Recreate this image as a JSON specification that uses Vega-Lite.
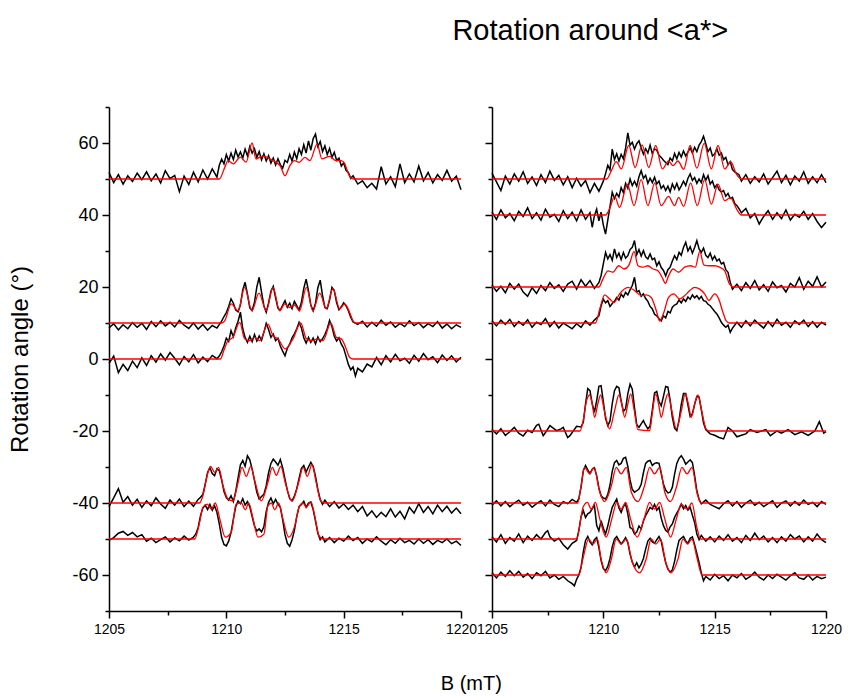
{
"$schema":"https://vega.github.io/schema/vega-lite/v6.json",
"background":"white",
"padding":{"left":8,"top":17,"right":10,"bottom":10},
"config":{"view":{"stroke":null},"font":"Liberation Sans","axis":{"domainColor":"black","domainWidth":1.5,"tickColor":"black","tickWidth":1.5,"labelColor":"black","labelFontSize":18,"labelFont":"Liberation Sans","titleFont":"Liberation Sans","titleFontWeight":"normal","titleColor":"black","titleFontSize":24,"grid":false,"labelPadding":4,"labelOverlap":false,"labelFlush":false},"title":{"font":"Liberation Sans","fontWeight":"normal","color":"black"}},
"title":{"text":"B (mT)","orient":"bottom","anchor":"middle","font":"Liberation Sans","fontSize":20,"offset":38,"dx":46},
"spacing":31,
"bounds":"flush",
"datasets":{
"le":[
{"s":50,"x":1205.0,"y":51.8},{"s":50,"x":1205.2,"y":49.0},{"s":50,"x":1205.4,"y":51.2},{"s":50,"x":1205.6,"y":48.6},{"s":50,"x":1205.8,"y":50.9},{"s":50,"x":1206.0,"y":49.3},{"s":50,"x":1206.2,"y":51.6},{"s":50,"x":1206.4,"y":49.8},{"s":50,"x":1206.6,"y":52.0},{"s":50,"x":1206.8,"y":49.5},{"s":50,"x":1207.0,"y":51.4},{"s":50,"x":1207.2,"y":48.9},{"s":50,"x":1207.4,"y":52.3},{"s":50,"x":1207.6,"y":50.1},{"s":50,"x":1207.8,"y":51.0},{"s":50,"x":1208.0,"y":46.5},{"s":50,"x":1208.2,"y":50.8},{"s":50,"x":1208.4,"y":48.5},{"s":50,"x":1208.6,"y":51.9},{"s":50,"x":1208.8,"y":49.2},{"s":50,"x":1209.0,"y":52.5},{"s":50,"x":1209.2,"y":50.0},{"s":50,"x":1209.4,"y":52.8},{"s":50,"x":1209.6,"y":50.5},{"s":50,"x":1209.7,"y":53.8},{"s":50,"x":1209.8,"y":55.5},{"s":50,"x":1209.9,"y":54.2},{"s":50,"x":1210.0,"y":56.8},{"s":50,"x":1210.1,"y":55.0},{"s":50,"x":1210.2,"y":57.2},{"s":50,"x":1210.3,"y":55.4},{"s":50,"x":1210.4,"y":58.0},{"s":50,"x":1210.5,"y":56.1},{"s":50,"x":1210.6,"y":57.5},{"s":50,"x":1210.7,"y":55.8},{"s":50,"x":1210.8,"y":58.3},{"s":50,"x":1210.9,"y":56.4},{"s":50,"x":1211.0,"y":59.0},{"s":50,"x":1211.1,"y":57.2},{"s":50,"x":1211.2,"y":58.4},{"s":50,"x":1211.3,"y":56.0},{"s":50,"x":1211.4,"y":57.6},{"s":50,"x":1211.5,"y":55.3},{"s":50,"x":1211.6,"y":57.0},{"s":50,"x":1211.7,"y":55.0},{"s":50,"x":1211.8,"y":56.5},{"s":50,"x":1211.9,"y":54.4},{"s":50,"x":1212.0,"y":55.8},{"s":50,"x":1212.1,"y":53.9},{"s":50,"x":1212.2,"y":55.6},{"s":50,"x":1212.3,"y":54.0},{"s":50,"x":1212.4,"y":53.0},{"s":50,"x":1212.5,"y":55.2},{"s":50,"x":1212.6,"y":54.6},{"s":50,"x":1212.7,"y":56.8},{"s":50,"x":1212.8,"y":55.0},{"s":50,"x":1212.9,"y":57.5},{"s":50,"x":1213.0,"y":55.6},{"s":50,"x":1213.1,"y":58.4},{"s":50,"x":1213.2,"y":56.8},{"s":50,"x":1213.3,"y":59.5},{"s":50,"x":1213.4,"y":57.2},{"s":50,"x":1213.5,"y":60.6},{"s":50,"x":1213.6,"y":58.0},{"s":50,"x":1213.7,"y":61.2},{"s":50,"x":1213.8,"y":62.5},{"s":50,"x":1213.9,"y":59.0},{"s":50,"x":1214.0,"y":60.4},{"s":50,"x":1214.1,"y":57.6},{"s":50,"x":1214.2,"y":59.2},{"s":50,"x":1214.3,"y":56.8},{"s":50,"x":1214.4,"y":58.5},{"s":50,"x":1214.5,"y":56.0},{"s":50,"x":1214.6,"y":57.4},{"s":50,"x":1214.7,"y":55.2},{"s":50,"x":1214.8,"y":55.8},{"s":50,"x":1214.9,"y":53.6},{"s":50,"x":1215.0,"y":54.5},{"s":50,"x":1215.1,"y":52.4},{"s":50,"x":1215.2,"y":51.8},{"s":50,"x":1215.3,"y":50.2},{"s":50,"x":1215.4,"y":50.9},{"s":50,"x":1215.6,"y":48.6},{"s":50,"x":1215.8,"y":49.5},{"s":50,"x":1216.0,"y":47.6},{"s":50,"x":1216.2,"y":48.8},{"s":50,"x":1216.4,"y":47.2},{"s":50,"x":1216.6,"y":53.4},{"s":50,"x":1216.8,"y":48.6},{"s":50,"x":1217.0,"y":50.6},{"s":50,"x":1217.2,"y":47.9},{"s":50,"x":1217.4,"y":54.2},{"s":50,"x":1217.6,"y":49.0},{"s":50,"x":1217.8,"y":51.4},{"s":50,"x":1218.0,"y":49.2},{"s":50,"x":1218.2,"y":53.6},{"s":50,"x":1218.4,"y":49.5},{"s":50,"x":1218.6,"y":51.8},{"s":50,"x":1218.8,"y":48.9},{"s":50,"x":1219.0,"y":51.2},{"s":50,"x":1219.2,"y":49.6},{"s":50,"x":1219.4,"y":52.4},{"s":50,"x":1219.6,"y":49.4},{"s":50,"x":1219.8,"y":50.8},{"s":50,"x":1220.0,"y":47.0},
{"s":10,"x":1205.0,"y":8.6},{"s":10,"x":1205.2,"y":9.8},{"s":10,"x":1205.4,"y":8.1},{"s":10,"x":1205.6,"y":9.5},{"s":10,"x":1205.8,"y":8.4},{"s":10,"x":1206.0,"y":10.1},{"s":10,"x":1206.2,"y":8.8},{"s":10,"x":1206.4,"y":9.9},{"s":10,"x":1206.6,"y":8.2},{"s":10,"x":1206.8,"y":10.4},{"s":10,"x":1207.0,"y":9.0},{"s":10,"x":1207.2,"y":10.6},{"s":10,"x":1207.4,"y":9.2},{"s":10,"x":1207.6,"y":10.2},{"s":10,"x":1207.8,"y":8.9},{"s":10,"x":1208.0,"y":10.7},{"s":10,"x":1208.2,"y":9.4},{"s":10,"x":1208.4,"y":8.5},{"s":10,"x":1208.6,"y":10.0},{"s":10,"x":1208.8,"y":8.3},{"s":10,"x":1209.0,"y":9.6},{"s":10,"x":1209.2,"y":8.0},{"s":10,"x":1209.4,"y":9.3},{"s":10,"x":1209.6,"y":8.6},{"s":10,"x":1209.8,"y":10.5},{"s":10,"x":1209.9,"y":11.8},{"s":10,"x":1210.0,"y":12.9},{"s":10,"x":1210.1,"y":14.6},{"s":10,"x":1210.2,"y":16.7},{"s":10,"x":1210.3,"y":15.5},{"s":10,"x":1210.4,"y":13.6},{"s":10,"x":1210.5,"y":13.1},{"s":10,"x":1210.6,"y":15.0},{"s":10,"x":1210.7,"y":19.2},{"s":10,"x":1210.8,"y":21.3},{"s":10,"x":1210.9,"y":18.0},{"s":10,"x":1211.0,"y":14.2},{"s":10,"x":1211.1,"y":13.5},{"s":10,"x":1211.2,"y":15.8},{"s":10,"x":1211.3,"y":20.0},{"s":10,"x":1211.4,"y":22.7},{"s":10,"x":1211.5,"y":18.6},{"s":10,"x":1211.6,"y":14.8},{"s":10,"x":1211.7,"y":13.0},{"s":10,"x":1211.8,"y":15.6},{"s":10,"x":1211.9,"y":18.8},{"s":10,"x":1212.0,"y":20.2},{"s":10,"x":1212.1,"y":17.0},{"s":10,"x":1212.2,"y":14.1},{"s":10,"x":1212.3,"y":13.6},{"s":10,"x":1212.4,"y":14.9},{"s":10,"x":1212.5,"y":16.2},{"s":10,"x":1212.6,"y":14.4},{"s":10,"x":1212.7,"y":15.5},{"s":10,"x":1212.8,"y":14.0},{"s":10,"x":1212.9,"y":16.0},{"s":10,"x":1213.0,"y":14.8},{"s":10,"x":1213.1,"y":13.6},{"s":10,"x":1213.2,"y":15.8},{"s":10,"x":1213.3,"y":19.6},{"s":10,"x":1213.4,"y":22.2},{"s":10,"x":1213.5,"y":19.0},{"s":10,"x":1213.6,"y":15.0},{"s":10,"x":1213.7,"y":13.4},{"s":10,"x":1213.8,"y":15.5},{"s":10,"x":1213.9,"y":19.8},{"s":10,"x":1214.0,"y":21.9},{"s":10,"x":1214.1,"y":17.6},{"s":10,"x":1214.2,"y":14.3},{"s":10,"x":1214.3,"y":14.0},{"s":10,"x":1214.4,"y":16.4},{"s":10,"x":1214.5,"y":19.9},{"s":10,"x":1214.6,"y":19.0},{"s":10,"x":1214.7,"y":15.6},{"s":10,"x":1214.8,"y":13.7},{"s":10,"x":1214.9,"y":14.5},{"s":10,"x":1215.0,"y":15.6},{"s":10,"x":1215.1,"y":14.8},{"s":10,"x":1215.2,"y":13.4},{"s":10,"x":1215.3,"y":11.6},{"s":10,"x":1215.4,"y":10.3},{"s":10,"x":1215.6,"y":9.6},{"s":10,"x":1215.8,"y":10.5},{"s":10,"x":1216.0,"y":8.9},{"s":10,"x":1216.2,"y":10.2},{"s":10,"x":1216.4,"y":9.1},{"s":10,"x":1216.6,"y":10.8},{"s":10,"x":1216.8,"y":9.4},{"s":10,"x":1217.0,"y":10.3},{"s":10,"x":1217.2,"y":8.8},{"s":10,"x":1217.4,"y":9.9},{"s":10,"x":1217.6,"y":9.0},{"s":10,"x":1217.8,"y":10.6},{"s":10,"x":1218.0,"y":9.3},{"s":10,"x":1218.2,"y":10.1},{"s":10,"x":1218.4,"y":8.7},{"s":10,"x":1218.6,"y":9.8},{"s":10,"x":1218.8,"y":9.0},{"s":10,"x":1219.0,"y":10.4},{"s":10,"x":1219.2,"y":8.6},{"s":10,"x":1219.4,"y":9.7},{"s":10,"x":1219.6,"y":8.4},{"s":10,"x":1219.8,"y":9.5},{"s":10,"x":1220.0,"y":8.8},
{"s":0,"x":1205.0,"y":-1.2},{"s":0,"x":1205.2,"y":0.8},{"s":0,"x":1205.4,"y":-3.8},{"s":0,"x":1205.6,"y":-1.5},{"s":0,"x":1205.8,"y":-3.2},{"s":0,"x":1206.0,"y":-0.6},{"s":0,"x":1206.2,"y":-2.4},{"s":0,"x":1206.4,"y":0.3},{"s":0,"x":1206.6,"y":-1.8},{"s":0,"x":1206.8,"y":0.9},{"s":0,"x":1207.0,"y":-0.9},{"s":0,"x":1207.2,"y":1.4},{"s":0,"x":1207.4,"y":-0.3},{"s":0,"x":1207.6,"y":1.8},{"s":0,"x":1207.8,"y":0.2},{"s":0,"x":1208.0,"y":-1.6},{"s":0,"x":1208.2,"y":0.7},{"s":0,"x":1208.4,"y":-0.8},{"s":0,"x":1208.6,"y":1.2},{"s":0,"x":1208.8,"y":-1.1},{"s":0,"x":1209.0,"y":0.5},{"s":0,"x":1209.2,"y":-0.7},{"s":0,"x":1209.4,"y":1.0},{"s":0,"x":1209.6,"y":0.1},{"s":0,"x":1209.7,"y":0.8},{"s":0,"x":1209.8,"y":2.0},{"s":0,"x":1209.9,"y":3.6},{"s":0,"x":1210.0,"y":5.8},{"s":0,"x":1210.1,"y":4.9},{"s":0,"x":1210.2,"y":7.9},{"s":0,"x":1210.3,"y":6.2},{"s":0,"x":1210.4,"y":8.6},{"s":0,"x":1210.5,"y":10.5},{"s":0,"x":1210.6,"y":13.0},{"s":0,"x":1210.7,"y":8.4},{"s":0,"x":1210.8,"y":6.0},{"s":0,"x":1210.9,"y":4.6},{"s":0,"x":1211.0,"y":6.3},{"s":0,"x":1211.1,"y":4.8},{"s":0,"x":1211.2,"y":6.8},{"s":0,"x":1211.3,"y":5.0},{"s":0,"x":1211.4,"y":6.4},{"s":0,"x":1211.5,"y":5.2},{"s":0,"x":1211.6,"y":7.4},{"s":0,"x":1211.7,"y":9.9},{"s":0,"x":1211.8,"y":8.2},{"s":0,"x":1211.9,"y":6.0},{"s":0,"x":1212.0,"y":6.9},{"s":0,"x":1212.1,"y":5.1},{"s":0,"x":1212.2,"y":5.8},{"s":0,"x":1212.3,"y":3.6},{"s":0,"x":1212.4,"y":2.2},{"s":0,"x":1212.5,"y":0.9},{"s":0,"x":1212.6,"y":3.0},{"s":0,"x":1212.7,"y":4.1},{"s":0,"x":1212.8,"y":5.9},{"s":0,"x":1212.9,"y":7.0},{"s":0,"x":1213.0,"y":8.4},{"s":0,"x":1213.1,"y":10.2},{"s":0,"x":1213.2,"y":8.6},{"s":0,"x":1213.3,"y":5.9},{"s":0,"x":1213.4,"y":4.4},{"s":0,"x":1213.5,"y":6.0},{"s":0,"x":1213.6,"y":4.6},{"s":0,"x":1213.7,"y":5.8},{"s":0,"x":1213.8,"y":4.2},{"s":0,"x":1213.9,"y":6.1},{"s":0,"x":1214.0,"y":4.8},{"s":0,"x":1214.1,"y":5.6},{"s":0,"x":1214.2,"y":6.8},{"s":0,"x":1214.3,"y":8.4},{"s":0,"x":1214.4,"y":10.7},{"s":0,"x":1214.5,"y":9.0},{"s":0,"x":1214.6,"y":6.3},{"s":0,"x":1214.7,"y":5.0},{"s":0,"x":1214.8,"y":5.9},{"s":0,"x":1214.9,"y":4.1},{"s":0,"x":1215.0,"y":3.0},{"s":0,"x":1215.1,"y":0.8},{"s":0,"x":1215.2,"y":-1.5},{"s":0,"x":1215.3,"y":-3.0},{"s":0,"x":1215.4,"y":-2.2},{"s":0,"x":1215.5,"y":-4.7},{"s":0,"x":1215.6,"y":-2.6},{"s":0,"x":1215.8,"y":-3.6},{"s":0,"x":1216.0,"y":-1.4},{"s":0,"x":1216.2,"y":-2.2},{"s":0,"x":1216.4,"y":0.4},{"s":0,"x":1216.6,"y":-1.6},{"s":0,"x":1216.8,"y":0.9},{"s":0,"x":1217.0,"y":-0.8},{"s":0,"x":1217.2,"y":1.3},{"s":0,"x":1217.4,"y":-0.5},{"s":0,"x":1217.6,"y":0.2},{"s":0,"x":1217.8,"y":-1.2},{"s":0,"x":1218.0,"y":1.0},{"s":0,"x":1218.2,"y":-0.6},{"s":0,"x":1218.4,"y":1.5},{"s":0,"x":1218.6,"y":-0.2},{"s":0,"x":1218.8,"y":0.6},{"s":0,"x":1219.0,"y":-1.0},{"s":0,"x":1219.2,"y":1.1},{"s":0,"x":1219.4,"y":-0.4},{"s":0,"x":1219.6,"y":0.9},{"s":0,"x":1219.8,"y":-0.8},{"s":0,"x":1220.0,"y":0.5},
{"s":-40,"x":1205.0,"y":-41.0},{"s":-40,"x":1205.2,"y":-38.6},{"s":-40,"x":1205.4,"y":-36.0},{"s":-40,"x":1205.6,"y":-39.8},{"s":-40,"x":1205.8,"y":-38.2},{"s":-40,"x":1206.0,"y":-40.6},{"s":-40,"x":1206.2,"y":-39.0},{"s":-40,"x":1206.4,"y":-41.2},{"s":-40,"x":1206.6,"y":-39.4},{"s":-40,"x":1206.8,"y":-40.8},{"s":-40,"x":1207.0,"y":-38.6},{"s":-40,"x":1207.2,"y":-40.3},{"s":-40,"x":1207.4,"y":-41.5},{"s":-40,"x":1207.6,"y":-39.2},{"s":-40,"x":1207.8,"y":-40.6},{"s":-40,"x":1208.0,"y":-38.9},{"s":-40,"x":1208.2,"y":-41.0},{"s":-40,"x":1208.4,"y":-39.5},{"s":-40,"x":1208.6,"y":-40.9},{"s":-40,"x":1208.8,"y":-39.0},{"s":-40,"x":1208.9,"y":-38.4},{"s":-40,"x":1209.0,"y":-37.6},{"s":-40,"x":1209.1,"y":-34.8},{"s":-40,"x":1209.2,"y":-31.5},{"s":-40,"x":1209.3,"y":-30.2},{"s":-40,"x":1209.4,"y":-31.8},{"s":-40,"x":1209.5,"y":-32.4},{"s":-40,"x":1209.6,"y":-30.5},{"s":-40,"x":1209.7,"y":-31.0},{"s":-40,"x":1209.8,"y":-33.6},{"s":-40,"x":1209.9,"y":-36.8},{"s":-40,"x":1210.0,"y":-38.5},{"s":-40,"x":1210.1,"y":-39.2},{"s":-40,"x":1210.2,"y":-38.0},{"s":-40,"x":1210.3,"y":-39.6},{"s":-40,"x":1210.4,"y":-36.8},{"s":-40,"x":1210.5,"y":-33.0},{"s":-40,"x":1210.6,"y":-29.4},{"s":-40,"x":1210.7,"y":-28.2},{"s":-40,"x":1210.8,"y":-29.8},{"s":-40,"x":1210.9,"y":-26.9},{"s":-40,"x":1211.0,"y":-28.0},{"s":-40,"x":1211.1,"y":-30.6},{"s":-40,"x":1211.2,"y":-33.8},{"s":-40,"x":1211.3,"y":-37.0},{"s":-40,"x":1211.4,"y":-38.9},{"s":-40,"x":1211.5,"y":-38.2},{"s":-40,"x":1211.6,"y":-37.6},{"s":-40,"x":1211.7,"y":-35.2},{"s":-40,"x":1211.8,"y":-31.6},{"s":-40,"x":1211.9,"y":-29.0},{"s":-40,"x":1212.0,"y":-27.8},{"s":-40,"x":1212.1,"y":-28.6},{"s":-40,"x":1212.2,"y":-29.5},{"s":-40,"x":1212.3,"y":-27.9},{"s":-40,"x":1212.4,"y":-30.2},{"s":-40,"x":1212.5,"y":-33.4},{"s":-40,"x":1212.6,"y":-36.5},{"s":-40,"x":1212.7,"y":-38.8},{"s":-40,"x":1212.8,"y":-39.4},{"s":-40,"x":1212.9,"y":-38.1},{"s":-40,"x":1213.0,"y":-36.0},{"s":-40,"x":1213.1,"y":-33.2},{"s":-40,"x":1213.2,"y":-30.4},{"s":-40,"x":1213.3,"y":-29.6},{"s":-40,"x":1213.4,"y":-31.4},{"s":-40,"x":1213.5,"y":-30.0},{"s":-40,"x":1213.6,"y":-28.7},{"s":-40,"x":1213.7,"y":-29.8},{"s":-40,"x":1213.8,"y":-32.6},{"s":-40,"x":1213.9,"y":-36.2},{"s":-40,"x":1214.0,"y":-39.0},{"s":-40,"x":1214.1,"y":-40.4},{"s":-40,"x":1214.2,"y":-39.2},{"s":-40,"x":1214.4,"y":-41.0},{"s":-40,"x":1214.6,"y":-39.6},{"s":-40,"x":1214.8,"y":-41.4},{"s":-40,"x":1215.0,"y":-40.2},{"s":-40,"x":1215.2,"y":-41.8},{"s":-40,"x":1215.4,"y":-40.6},{"s":-40,"x":1215.6,"y":-42.4},{"s":-40,"x":1215.8,"y":-41.0},{"s":-40,"x":1216.0,"y":-43.6},{"s":-40,"x":1216.2,"y":-42.2},{"s":-40,"x":1216.4,"y":-44.0},{"s":-40,"x":1216.6,"y":-42.6},{"s":-40,"x":1216.8,"y":-43.8},{"s":-40,"x":1217.0,"y":-41.6},{"s":-40,"x":1217.2,"y":-43.9},{"s":-40,"x":1217.4,"y":-42.3},{"s":-40,"x":1217.6,"y":-44.4},{"s":-40,"x":1217.8,"y":-41.2},{"s":-40,"x":1218.0,"y":-42.8},{"s":-40,"x":1218.2,"y":-40.2},{"s":-40,"x":1218.4,"y":-42.6},{"s":-40,"x":1218.6,"y":-41.0},{"s":-40,"x":1218.8,"y":-43.0},{"s":-40,"x":1219.0,"y":-40.6},{"s":-40,"x":1219.2,"y":-42.4},{"s":-40,"x":1219.4,"y":-40.9},{"s":-40,"x":1219.6,"y":-42.8},{"s":-40,"x":1219.8,"y":-41.4},{"s":-40,"x":1220.0,"y":-43.0},
{"s":-50,"x":1205.0,"y":-50.4},{"s":-50,"x":1205.2,"y":-49.6},{"s":-50,"x":1205.4,"y":-48.4},{"s":-50,"x":1205.6,"y":-47.9},{"s":-50,"x":1205.8,"y":-49.0},{"s":-50,"x":1206.0,"y":-48.2},{"s":-50,"x":1206.2,"y":-49.4},{"s":-50,"x":1206.4,"y":-48.8},{"s":-50,"x":1206.6,"y":-50.6},{"s":-50,"x":1206.8,"y":-49.8},{"s":-50,"x":1207.0,"y":-51.0},{"s":-50,"x":1207.2,"y":-50.2},{"s":-50,"x":1207.4,"y":-49.4},{"s":-50,"x":1207.6,"y":-50.8},{"s":-50,"x":1207.8,"y":-49.7},{"s":-50,"x":1208.0,"y":-50.5},{"s":-50,"x":1208.2,"y":-49.2},{"s":-50,"x":1208.4,"y":-50.3},{"s":-50,"x":1208.6,"y":-49.5},{"s":-50,"x":1208.7,"y":-48.6},{"s":-50,"x":1208.8,"y":-46.8},{"s":-50,"x":1208.9,"y":-43.5},{"s":-50,"x":1209.0,"y":-41.4},{"s":-50,"x":1209.1,"y":-40.6},{"s":-50,"x":1209.2,"y":-41.8},{"s":-50,"x":1209.3,"y":-40.4},{"s":-50,"x":1209.4,"y":-42.0},{"s":-50,"x":1209.5,"y":-40.8},{"s":-50,"x":1209.6,"y":-42.6},{"s":-50,"x":1209.7,"y":-45.8},{"s":-50,"x":1209.8,"y":-49.6},{"s":-50,"x":1209.9,"y":-51.5},{"s":-50,"x":1210.0,"y":-51.9},{"s":-50,"x":1210.1,"y":-50.6},{"s":-50,"x":1210.2,"y":-48.2},{"s":-50,"x":1210.3,"y":-44.5},{"s":-50,"x":1210.4,"y":-41.0},{"s":-50,"x":1210.5,"y":-39.4},{"s":-50,"x":1210.6,"y":-40.2},{"s":-50,"x":1210.7,"y":-38.8},{"s":-50,"x":1210.8,"y":-40.6},{"s":-50,"x":1210.9,"y":-39.6},{"s":-50,"x":1211.0,"y":-41.0},{"s":-50,"x":1211.1,"y":-43.8},{"s":-50,"x":1211.2,"y":-46.4},{"s":-50,"x":1211.3,"y":-47.8},{"s":-50,"x":1211.4,"y":-47.2},{"s":-50,"x":1211.5,"y":-48.0},{"s":-50,"x":1211.6,"y":-46.6},{"s":-50,"x":1211.7,"y":-42.4},{"s":-50,"x":1211.8,"y":-39.8},{"s":-50,"x":1211.9,"y":-38.6},{"s":-50,"x":1212.0,"y":-40.2},{"s":-50,"x":1212.1,"y":-39.0},{"s":-50,"x":1212.2,"y":-40.4},{"s":-50,"x":1212.3,"y":-41.2},{"s":-50,"x":1212.4,"y":-44.6},{"s":-50,"x":1212.5,"y":-48.8},{"s":-50,"x":1212.6,"y":-51.2},{"s":-50,"x":1212.7,"y":-52.0},{"s":-50,"x":1212.8,"y":-50.2},{"s":-50,"x":1212.9,"y":-47.6},{"s":-50,"x":1213.0,"y":-43.8},{"s":-50,"x":1213.1,"y":-41.0},{"s":-50,"x":1213.2,"y":-40.4},{"s":-50,"x":1213.3,"y":-39.5},{"s":-50,"x":1213.4,"y":-41.2},{"s":-50,"x":1213.5,"y":-40.0},{"s":-50,"x":1213.6,"y":-39.7},{"s":-50,"x":1213.7,"y":-41.8},{"s":-50,"x":1213.8,"y":-45.0},{"s":-50,"x":1213.9,"y":-48.4},{"s":-50,"x":1214.0,"y":-50.2},{"s":-50,"x":1214.1,"y":-49.4},{"s":-50,"x":1214.2,"y":-50.8},{"s":-50,"x":1214.4,"y":-49.6},{"s":-50,"x":1214.6,"y":-51.0},{"s":-50,"x":1214.8,"y":-49.8},{"s":-50,"x":1215.0,"y":-50.6},{"s":-50,"x":1215.2,"y":-49.2},{"s":-50,"x":1215.4,"y":-50.4},{"s":-50,"x":1215.6,"y":-49.6},{"s":-50,"x":1215.8,"y":-51.2},{"s":-50,"x":1216.0,"y":-50.0},{"s":-50,"x":1216.2,"y":-50.8},{"s":-50,"x":1216.4,"y":-49.4},{"s":-50,"x":1216.6,"y":-50.6},{"s":-50,"x":1216.8,"y":-51.6},{"s":-50,"x":1217.0,"y":-50.2},{"s":-50,"x":1217.2,"y":-51.2},{"s":-50,"x":1217.4,"y":-49.8},{"s":-50,"x":1217.6,"y":-51.0},{"s":-50,"x":1217.8,"y":-50.4},{"s":-50,"x":1218.0,"y":-51.4},{"s":-50,"x":1218.2,"y":-50.0},{"s":-50,"x":1218.4,"y":-51.2},{"s":-50,"x":1218.6,"y":-50.2},{"s":-50,"x":1218.8,"y":-51.5},{"s":-50,"x":1219.0,"y":-50.4},{"s":-50,"x":1219.2,"y":-51.0},{"s":-50,"x":1219.4,"y":-50.0},{"s":-50,"x":1219.6,"y":-51.3},{"s":-50,"x":1219.8,"y":-50.6},{"s":-50,"x":1220.0,"y":-51.8}
],
"lf":[
{"s":50,"x":1205,"y":50},{"s":50,"x":1209.7,"y":50},{"s":50,"x":1209.95,"y":53.5},{"s":50,"x":1210.07,"y":55.1},{"s":50,"x":1210.3,"y":54.2},{"s":50,"x":1210.6,"y":56.1},{"s":50,"x":1210.84,"y":54.7},{"s":50,"x":1211.1,"y":60},{"s":50,"x":1211.26,"y":55.6},{"s":50,"x":1211.56,"y":56.4},{"s":50,"x":1211.86,"y":55.6},{"s":50,"x":1212.1,"y":54.7},{"s":50,"x":1212.3,"y":53.6},{"s":50,"x":1212.5,"y":50.9},{"s":50,"x":1212.7,"y":53.6},{"s":50,"x":1212.9,"y":55.1},{"s":50,"x":1213.1,"y":54.6},{"s":50,"x":1213.35,"y":56},{"s":50,"x":1213.56,"y":55.1},{"s":50,"x":1213.87,"y":59.7},{"s":50,"x":1214.07,"y":55.6},{"s":50,"x":1214.4,"y":56.3},{"s":50,"x":1214.67,"y":55.1},{"s":50,"x":1214.9,"y":55.1},{"s":50,"x":1215.05,"y":54.2},{"s":50,"x":1215.2,"y":51.5},{"s":50,"x":1215.35,"y":50.1},{"s":50,"x":1215.45,"y":50},{"s":50,"x":1220,"y":50},
{"s":10,"x":1205,"y":10},{"s":10,"x":1209.8,"y":10},{"s":10,"x":1209.93,"y":10.6},{"s":10,"x":1210.21,"y":15.3},{"s":10,"x":1210.5,"y":13.4},{"s":10,"x":1210.78,"y":19.9},{"s":10,"x":1211.09,"y":13.4},{"s":10,"x":1211.39,"y":18.3},{"s":10,"x":1211.7,"y":13.4},{"s":10,"x":1211.99,"y":19.9},{"s":10,"x":1212.27,"y":13.4},{"s":10,"x":1212.49,"y":15.3},{"s":10,"x":1212.7,"y":14.3},{"s":10,"x":1212.91,"y":15},{"s":10,"x":1213.12,"y":13.4},{"s":10,"x":1213.41,"y":19.9},{"s":10,"x":1213.69,"y":13.4},{"s":10,"x":1213.98,"y":18.3},{"s":10,"x":1214.26,"y":13.9},{"s":10,"x":1214.54,"y":19.6},{"s":10,"x":1214.83,"y":13.9},{"s":10,"x":1215.04,"y":15.3},{"s":10,"x":1215.25,"y":13},{"s":10,"x":1215.4,"y":10.6},{"s":10,"x":1215.5,"y":10},{"s":10,"x":1220,"y":10},
{"s":0,"x":1205,"y":0},{"s":0,"x":1209.75,"y":0},{"s":0,"x":1209.9,"y":2.5},{"s":0,"x":1210.07,"y":5.1},{"s":0,"x":1210.28,"y":6},{"s":0,"x":1210.57,"y":10.2},{"s":0,"x":1210.78,"y":5.6},{"s":0,"x":1210.99,"y":5.1},{"s":0,"x":1211.2,"y":6},{"s":0,"x":1211.42,"y":5.1},{"s":0,"x":1211.77,"y":9.7},{"s":0,"x":1211.99,"y":6.5},{"s":0,"x":1212.2,"y":5.6},{"s":0,"x":1212.51,"y":2.8},{"s":0,"x":1212.84,"y":5.6},{"s":0,"x":1213.17,"y":10},{"s":0,"x":1213.41,"y":5.6},{"s":0,"x":1213.62,"y":5.1},{"s":0,"x":1213.9,"y":5.6},{"s":0,"x":1214.12,"y":5.1},{"s":0,"x":1214.45,"y":10},{"s":0,"x":1214.69,"y":6},{"s":0,"x":1214.9,"y":5.6},{"s":0,"x":1215.11,"y":2.8},{"s":0,"x":1215.25,"y":0.5},{"s":0,"x":1215.4,"y":0},{"s":0,"x":1220,"y":0},
{"s":-40,"x":1205,"y":-40},{"s":-40,"x":1208.85,"y":-40},{"s":-40,"x":1209.0,"y":-38},{"s":-40,"x":1209.15,"y":-33.3},{"s":-40,"x":1209.33,"y":-29.8},{"s":-40,"x":1209.5,"y":-31.5},{"s":-40,"x":1209.67,"y":-30.1},{"s":-40,"x":1209.86,"y":-35.2},{"s":-40,"x":1210.07,"y":-38.9},{"s":-40,"x":1210.28,"y":-39.4},{"s":-40,"x":1210.5,"y":-34.3},{"s":-40,"x":1210.67,"y":-30.1},{"s":-40,"x":1210.85,"y":-32.6},{"s":-40,"x":1211.04,"y":-29.8},{"s":-40,"x":1211.23,"y":-34.3},{"s":-40,"x":1211.49,"y":-39.4},{"s":-40,"x":1211.77,"y":-34.3},{"s":-40,"x":1211.96,"y":-30.1},{"s":-40,"x":1212.13,"y":-32.3},{"s":-40,"x":1212.32,"y":-29.8},{"s":-40,"x":1212.51,"y":-34.3},{"s":-40,"x":1212.8,"y":-39.5},{"s":-40,"x":1213.08,"y":-34.3},{"s":-40,"x":1213.27,"y":-30.1},{"s":-40,"x":1213.45,"y":-32.6},{"s":-40,"x":1213.65,"y":-29.3},{"s":-40,"x":1213.83,"y":-34.3},{"s":-40,"x":1214.02,"y":-39.4},{"s":-40,"x":1214.19,"y":-40},{"s":-40,"x":1220,"y":-40},
{"s":-50,"x":1205,"y":-50},{"s":-50,"x":1208.65,"y":-50},{"s":-50,"x":1208.86,"y":-45.4},{"s":-50,"x":1209.0,"y":-41.2},{"s":-50,"x":1209.19,"y":-40.3},{"s":-50,"x":1209.36,"y":-41.7},{"s":-50,"x":1209.53,"y":-40},{"s":-50,"x":1209.72,"y":-44.4},{"s":-50,"x":1209.96,"y":-49.5},{"s":-50,"x":1210.21,"y":-48.1},{"s":-50,"x":1210.42,"y":-40.3},{"s":-50,"x":1210.64,"y":-40},{"s":-50,"x":1210.81,"y":-41.9},{"s":-50,"x":1210.95,"y":-40},{"s":-50,"x":1211.14,"y":-44.4},{"s":-50,"x":1211.35,"y":-49.5},{"s":-50,"x":1211.6,"y":-48.7},{"s":-50,"x":1211.77,"y":-40.8},{"s":-50,"x":1211.92,"y":-40},{"s":-50,"x":1212.06,"y":-41.9},{"s":-50,"x":1212.23,"y":-40},{"s":-50,"x":1212.41,"y":-44.4},{"s":-50,"x":1212.66,"y":-49.5},{"s":-50,"x":1212.91,"y":-46.5},{"s":-50,"x":1213.12,"y":-40.8},{"s":-50,"x":1213.27,"y":-40},{"s":-50,"x":1213.41,"y":-41.2},{"s":-50,"x":1213.6,"y":-39.6},{"s":-50,"x":1213.77,"y":-43.7},{"s":-50,"x":1213.94,"y":-49},{"s":-50,"x":1214.12,"y":-50},{"s":-50,"x":1220,"y":-50}
],
"re":[
{"s":50,"x":1205.0,"y":51.6},{"s":50,"x":1205.2,"y":49.2},{"s":50,"x":1205.4,"y":46.8},{"s":50,"x":1205.6,"y":50.8},{"s":50,"x":1205.8,"y":48.6},{"s":50,"x":1206.0,"y":51.4},{"s":50,"x":1206.2,"y":49.4},{"s":50,"x":1206.4,"y":52.0},{"s":50,"x":1206.6,"y":48.8},{"s":50,"x":1206.8,"y":50.6},{"s":50,"x":1207.0,"y":48.2},{"s":50,"x":1207.2,"y":51.2},{"s":50,"x":1207.4,"y":49.0},{"s":50,"x":1207.6,"y":52.2},{"s":50,"x":1207.8,"y":49.6},{"s":50,"x":1208.0,"y":51.0},{"s":50,"x":1208.2,"y":48.4},{"s":50,"x":1208.4,"y":50.6},{"s":50,"x":1208.6,"y":47.6},{"s":50,"x":1208.8,"y":50.2},{"s":50,"x":1209.0,"y":48.0},{"s":50,"x":1209.2,"y":49.6},{"s":50,"x":1209.4,"y":46.2},{"s":50,"x":1209.6,"y":48.8},{"s":50,"x":1209.8,"y":46.6},{"s":50,"x":1210.0,"y":49.4},{"s":50,"x":1210.1,"y":51.5},{"s":50,"x":1210.2,"y":53.8},{"s":50,"x":1210.3,"y":52.6},{"s":50,"x":1210.4,"y":58.3},{"s":50,"x":1210.5,"y":55.4},{"s":50,"x":1210.6,"y":57.0},{"s":50,"x":1210.7,"y":55.0},{"s":50,"x":1210.8,"y":56.8},{"s":50,"x":1210.9,"y":55.6},{"s":50,"x":1211.0,"y":58.6},{"s":50,"x":1211.1,"y":62.8},{"s":50,"x":1211.2,"y":59.4},{"s":50,"x":1211.3,"y":60.2},{"s":50,"x":1211.4,"y":58.3},{"s":50,"x":1211.5,"y":59.8},{"s":50,"x":1211.6,"y":60.6},{"s":50,"x":1211.7,"y":58.6},{"s":50,"x":1211.8,"y":56.9},{"s":50,"x":1211.9,"y":58.4},{"s":50,"x":1212.0,"y":57.2},{"s":50,"x":1212.1,"y":59.4},{"s":50,"x":1212.2,"y":57.0},{"s":50,"x":1212.3,"y":58.4},{"s":50,"x":1212.4,"y":58.0},{"s":50,"x":1212.5,"y":56.6},{"s":50,"x":1212.6,"y":56.0},{"s":50,"x":1212.7,"y":55.2},{"s":50,"x":1212.8,"y":54.6},{"s":50,"x":1212.9,"y":54.0},{"s":50,"x":1213.0,"y":55.8},{"s":50,"x":1213.1,"y":55.0},{"s":50,"x":1213.2,"y":57.1},{"s":50,"x":1213.3,"y":55.6},{"s":50,"x":1213.4,"y":57.4},{"s":50,"x":1213.5,"y":56.1},{"s":50,"x":1213.6,"y":57.8},{"s":50,"x":1213.7,"y":56.4},{"s":50,"x":1213.8,"y":57.5},{"s":50,"x":1213.9,"y":58.6},{"s":50,"x":1214.0,"y":57.2},{"s":50,"x":1214.1,"y":58.8},{"s":50,"x":1214.2,"y":57.6},{"s":50,"x":1214.3,"y":59.4},{"s":50,"x":1214.4,"y":60.4},{"s":50,"x":1214.5,"y":61.9},{"s":50,"x":1214.6,"y":59.8},{"s":50,"x":1214.7,"y":57.6},{"s":50,"x":1214.8,"y":58.6},{"s":50,"x":1214.9,"y":56.4},{"s":50,"x":1215.0,"y":56.9},{"s":50,"x":1215.1,"y":58.4},{"s":50,"x":1215.2,"y":56.6},{"s":50,"x":1215.3,"y":57.2},{"s":50,"x":1215.4,"y":55.4},{"s":50,"x":1215.5,"y":56.0},{"s":50,"x":1215.6,"y":54.0},{"s":50,"x":1215.7,"y":54.8},{"s":50,"x":1215.8,"y":52.6},{"s":50,"x":1215.9,"y":52.0},{"s":50,"x":1216.0,"y":51.6},{"s":50,"x":1216.1,"y":51.1},{"s":50,"x":1216.2,"y":49.4},{"s":50,"x":1216.4,"y":51.2},{"s":50,"x":1216.6,"y":48.8},{"s":50,"x":1216.8,"y":50.6},{"s":50,"x":1217.0,"y":49.2},{"s":50,"x":1217.2,"y":51.4},{"s":50,"x":1217.4,"y":48.6},{"s":50,"x":1217.6,"y":50.4},{"s":50,"x":1217.8,"y":52.2},{"s":50,"x":1218.0,"y":49.0},{"s":50,"x":1218.2,"y":51.0},{"s":50,"x":1218.4,"y":48.4},{"s":50,"x":1218.6,"y":50.8},{"s":50,"x":1218.8,"y":49.4},{"s":50,"x":1219.0,"y":52.0},{"s":50,"x":1219.2,"y":48.8},{"s":50,"x":1219.4,"y":50.6},{"s":50,"x":1219.6,"y":49.0},{"s":50,"x":1219.8,"y":51.2},{"s":50,"x":1220.0,"y":49.0},
{"s":40,"x":1205.0,"y":40.8},{"s":40,"x":1205.2,"y":38.8},{"s":40,"x":1205.4,"y":41.4},{"s":40,"x":1205.6,"y":39.2},{"s":40,"x":1205.8,"y":40.4},{"s":40,"x":1206.0,"y":38.4},{"s":40,"x":1206.2,"y":41.0},{"s":40,"x":1206.4,"y":39.6},{"s":40,"x":1206.6,"y":42.0},{"s":40,"x":1206.8,"y":39.0},{"s":40,"x":1207.0,"y":40.6},{"s":40,"x":1207.2,"y":38.6},{"s":40,"x":1207.4,"y":41.6},{"s":40,"x":1207.6,"y":39.4},{"s":40,"x":1207.8,"y":40.2},{"s":40,"x":1208.0,"y":38.2},{"s":40,"x":1208.2,"y":41.2},{"s":40,"x":1208.4,"y":39.0},{"s":40,"x":1208.6,"y":40.8},{"s":40,"x":1208.8,"y":38.4},{"s":40,"x":1209.0,"y":41.4},{"s":40,"x":1209.2,"y":38.8},{"s":40,"x":1209.4,"y":40.6},{"s":40,"x":1209.5,"y":36.6},{"s":40,"x":1209.6,"y":39.8},{"s":40,"x":1209.7,"y":41.6},{"s":40,"x":1209.8,"y":38.4},{"s":40,"x":1209.9,"y":40.8},{"s":40,"x":1210.0,"y":37.2},{"s":40,"x":1210.1,"y":34.7},{"s":40,"x":1210.2,"y":38.6},{"s":40,"x":1210.3,"y":42.4},{"s":40,"x":1210.4,"y":46.3},{"s":40,"x":1210.5,"y":44.6},{"s":40,"x":1210.6,"y":46.0},{"s":40,"x":1210.7,"y":45.0},{"s":40,"x":1210.8,"y":47.6},{"s":40,"x":1210.9,"y":46.2},{"s":40,"x":1211.0,"y":48.8},{"s":40,"x":1211.1,"y":47.4},{"s":40,"x":1211.2,"y":50.0},{"s":40,"x":1211.3,"y":48.2},{"s":40,"x":1211.4,"y":49.4},{"s":40,"x":1211.5,"y":48.0},{"s":40,"x":1211.6,"y":50.6},{"s":40,"x":1211.7,"y":52.3},{"s":40,"x":1211.8,"y":50.2},{"s":40,"x":1211.9,"y":51.0},{"s":40,"x":1212.0,"y":48.8},{"s":40,"x":1212.1,"y":50.2},{"s":40,"x":1212.2,"y":49.0},{"s":40,"x":1212.3,"y":50.5},{"s":40,"x":1212.4,"y":48.6},{"s":40,"x":1212.5,"y":49.4},{"s":40,"x":1212.6,"y":47.4},{"s":40,"x":1212.7,"y":48.2},{"s":40,"x":1212.8,"y":46.8},{"s":40,"x":1212.9,"y":48.0},{"s":40,"x":1213.0,"y":46.4},{"s":40,"x":1213.1,"y":48.6},{"s":40,"x":1213.2,"y":47.2},{"s":40,"x":1213.3,"y":48.8},{"s":40,"x":1213.4,"y":47.0},{"s":40,"x":1213.5,"y":48.1},{"s":40,"x":1213.6,"y":49.4},{"s":40,"x":1213.7,"y":48.2},{"s":40,"x":1213.8,"y":50.2},{"s":40,"x":1213.9,"y":51.4},{"s":40,"x":1214.0,"y":49.6},{"s":40,"x":1214.1,"y":50.4},{"s":40,"x":1214.2,"y":48.8},{"s":40,"x":1214.3,"y":50.0},{"s":40,"x":1214.4,"y":49.0},{"s":40,"x":1214.5,"y":51.2},{"s":40,"x":1214.6,"y":49.6},{"s":40,"x":1214.7,"y":50.9},{"s":40,"x":1214.8,"y":48.6},{"s":40,"x":1214.9,"y":49.4},{"s":40,"x":1215.0,"y":47.6},{"s":40,"x":1215.1,"y":48.4},{"s":40,"x":1215.2,"y":47.0},{"s":40,"x":1215.3,"y":46.4},{"s":40,"x":1215.4,"y":46.8},{"s":40,"x":1215.5,"y":45.2},{"s":40,"x":1215.6,"y":46.0},{"s":40,"x":1215.7,"y":44.6},{"s":40,"x":1215.8,"y":44.9},{"s":40,"x":1215.9,"y":43.2},{"s":40,"x":1216.0,"y":42.6},{"s":40,"x":1216.1,"y":41.7},{"s":40,"x":1216.2,"y":40.6},{"s":40,"x":1216.4,"y":41.8},{"s":40,"x":1216.6,"y":39.2},{"s":40,"x":1216.8,"y":40.4},{"s":40,"x":1217.0,"y":37.5},{"s":40,"x":1217.2,"y":39.6},{"s":40,"x":1217.4,"y":41.2},{"s":40,"x":1217.6,"y":38.8},{"s":40,"x":1217.8,"y":40.6},{"s":40,"x":1218.0,"y":39.0},{"s":40,"x":1218.2,"y":41.4},{"s":40,"x":1218.4,"y":38.6},{"s":40,"x":1218.6,"y":40.2},{"s":40,"x":1218.8,"y":39.4},{"s":40,"x":1219.0,"y":41.0},{"s":40,"x":1219.2,"y":38.8},{"s":40,"x":1219.4,"y":40.4},{"s":40,"x":1219.6,"y":38.2},{"s":40,"x":1219.8,"y":36.5},{"s":40,"x":1220.0,"y":38.0},
{"s":20,"x":1205.0,"y":20.6},{"s":20,"x":1205.2,"y":18.8},{"s":20,"x":1205.4,"y":20.2},{"s":20,"x":1205.6,"y":18.4},{"s":20,"x":1205.8,"y":21.0},{"s":20,"x":1206.0,"y":19.4},{"s":20,"x":1206.2,"y":20.8},{"s":20,"x":1206.4,"y":18.6},{"s":20,"x":1206.6,"y":17.4},{"s":20,"x":1206.8,"y":19.8},{"s":20,"x":1207.0,"y":18.2},{"s":20,"x":1207.2,"y":20.4},{"s":20,"x":1207.4,"y":19.0},{"s":20,"x":1207.6,"y":21.2},{"s":20,"x":1207.8,"y":19.6},{"s":20,"x":1208.0,"y":20.6},{"s":20,"x":1208.2,"y":18.8},{"s":20,"x":1208.4,"y":20.8},{"s":20,"x":1208.6,"y":21.6},{"s":20,"x":1208.8,"y":19.4},{"s":20,"x":1209.0,"y":22.0},{"s":20,"x":1209.2,"y":20.2},{"s":20,"x":1209.4,"y":21.8},{"s":20,"x":1209.6,"y":19.6},{"s":20,"x":1209.8,"y":21.2},{"s":20,"x":1209.9,"y":23.2},{"s":20,"x":1210.0,"y":26.4},{"s":20,"x":1210.1,"y":29.6},{"s":20,"x":1210.2,"y":27.8},{"s":20,"x":1210.3,"y":29.0},{"s":20,"x":1210.4,"y":27.4},{"s":20,"x":1210.5,"y":30.6},{"s":20,"x":1210.6,"y":28.2},{"s":20,"x":1210.7,"y":29.4},{"s":20,"x":1210.8,"y":27.6},{"s":20,"x":1210.9,"y":29.6},{"s":20,"x":1211.0,"y":28.0},{"s":20,"x":1211.1,"y":28.7},{"s":20,"x":1211.2,"y":30.4},{"s":20,"x":1211.3,"y":31.0},{"s":20,"x":1211.4,"y":32.9},{"s":20,"x":1211.5,"y":29.0},{"s":20,"x":1211.6,"y":30.4},{"s":20,"x":1211.7,"y":28.6},{"s":20,"x":1211.8,"y":30.1},{"s":20,"x":1211.9,"y":28.4},{"s":20,"x":1212.0,"y":27.8},{"s":20,"x":1212.1,"y":29.2},{"s":20,"x":1212.2,"y":27.6},{"s":20,"x":1212.3,"y":28.0},{"s":20,"x":1212.4,"y":25.9},{"s":20,"x":1212.5,"y":27.0},{"s":20,"x":1212.6,"y":25.4},{"s":20,"x":1212.7,"y":24.6},{"s":20,"x":1212.8,"y":23.1},{"s":20,"x":1212.9,"y":24.8},{"s":20,"x":1213.0,"y":25.5},{"s":20,"x":1213.1,"y":27.2},{"s":20,"x":1213.2,"y":28.7},{"s":20,"x":1213.3,"y":27.6},{"s":20,"x":1213.4,"y":29.6},{"s":20,"x":1213.5,"y":28.8},{"s":20,"x":1213.6,"y":31.0},{"s":20,"x":1213.7,"y":32.4},{"s":20,"x":1213.8,"y":30.0},{"s":20,"x":1213.9,"y":31.2},{"s":20,"x":1214.0,"y":29.4},{"s":20,"x":1214.1,"y":31.0},{"s":20,"x":1214.2,"y":32.9},{"s":20,"x":1214.3,"y":30.6},{"s":20,"x":1214.4,"y":29.6},{"s":20,"x":1214.5,"y":30.8},{"s":20,"x":1214.6,"y":28.8},{"s":20,"x":1214.7,"y":28.2},{"s":20,"x":1214.8,"y":29.4},{"s":20,"x":1214.9,"y":27.6},{"s":20,"x":1215.0,"y":28.6},{"s":20,"x":1215.1,"y":27.2},{"s":20,"x":1215.2,"y":27.8},{"s":20,"x":1215.3,"y":26.4},{"s":20,"x":1215.4,"y":26.8},{"s":20,"x":1215.5,"y":24.8},{"s":20,"x":1215.6,"y":24.1},{"s":20,"x":1215.7,"y":21.3},{"s":20,"x":1215.8,"y":19.4},{"s":20,"x":1216.0,"y":20.8},{"s":20,"x":1216.2,"y":19.0},{"s":20,"x":1216.4,"y":21.2},{"s":20,"x":1216.6,"y":19.6},{"s":20,"x":1216.8,"y":21.8},{"s":20,"x":1217.0,"y":19.2},{"s":20,"x":1217.2,"y":20.6},{"s":20,"x":1217.4,"y":18.8},{"s":20,"x":1217.6,"y":21.4},{"s":20,"x":1217.8,"y":19.8},{"s":20,"x":1218.0,"y":20.4},{"s":20,"x":1218.2,"y":18.6},{"s":20,"x":1218.4,"y":21.0},{"s":20,"x":1218.6,"y":20.0},{"s":20,"x":1218.8,"y":22.6},{"s":20,"x":1219.0,"y":19.4},{"s":20,"x":1219.2,"y":21.6},{"s":20,"x":1219.4,"y":20.2},{"s":20,"x":1219.6,"y":22.8},{"s":20,"x":1219.8,"y":20.0},{"s":20,"x":1220.0,"y":21.4},
{"s":10,"x":1205.0,"y":10.6},{"s":10,"x":1205.2,"y":9.2},{"s":10,"x":1205.4,"y":10.8},{"s":10,"x":1205.6,"y":9.6},{"s":10,"x":1205.8,"y":11.0},{"s":10,"x":1206.0,"y":9.0},{"s":10,"x":1206.2,"y":10.4},{"s":10,"x":1206.4,"y":9.4},{"s":10,"x":1206.6,"y":10.9},{"s":10,"x":1206.8,"y":8.8},{"s":10,"x":1207.0,"y":10.2},{"s":10,"x":1207.2,"y":9.6},{"s":10,"x":1207.4,"y":11.2},{"s":10,"x":1207.6,"y":9.0},{"s":10,"x":1207.8,"y":10.4},{"s":10,"x":1208.0,"y":8.6},{"s":10,"x":1208.2,"y":10.0},{"s":10,"x":1208.4,"y":9.2},{"s":10,"x":1208.6,"y":8.4},{"s":10,"x":1208.8,"y":9.8},{"s":10,"x":1209.0,"y":8.8},{"s":10,"x":1209.2,"y":10.6},{"s":10,"x":1209.4,"y":9.4},{"s":10,"x":1209.6,"y":10.8},{"s":10,"x":1209.8,"y":12.0},{"s":10,"x":1209.9,"y":14.8},{"s":10,"x":1210.0,"y":16.6},{"s":10,"x":1210.1,"y":15.6},{"s":10,"x":1210.2,"y":16.2},{"s":10,"x":1210.3,"y":14.6},{"s":10,"x":1210.4,"y":15.4},{"s":10,"x":1210.5,"y":16.0},{"s":10,"x":1210.6,"y":17.1},{"s":10,"x":1210.7,"y":16.4},{"s":10,"x":1210.8,"y":18.0},{"s":10,"x":1210.9,"y":17.2},{"s":10,"x":1211.0,"y":18.5},{"s":10,"x":1211.1,"y":17.8},{"s":10,"x":1211.2,"y":19.2},{"s":10,"x":1211.3,"y":20.4},{"s":10,"x":1211.4,"y":22.7},{"s":10,"x":1211.5,"y":18.6},{"s":10,"x":1211.6,"y":19.0},{"s":10,"x":1211.7,"y":17.4},{"s":10,"x":1211.8,"y":18.1},{"s":10,"x":1211.9,"y":16.8},{"s":10,"x":1212.0,"y":16.0},{"s":10,"x":1212.1,"y":14.6},{"s":10,"x":1212.2,"y":13.9},{"s":10,"x":1212.3,"y":12.4},{"s":10,"x":1212.4,"y":12.0},{"s":10,"x":1212.5,"y":11.2},{"s":10,"x":1212.6,"y":10.6},{"s":10,"x":1212.7,"y":12.0},{"s":10,"x":1212.8,"y":11.4},{"s":10,"x":1212.9,"y":13.2},{"s":10,"x":1213.0,"y":12.8},{"s":10,"x":1213.1,"y":14.4},{"s":10,"x":1213.2,"y":15.0},{"s":10,"x":1213.3,"y":15.3},{"s":10,"x":1213.4,"y":16.4},{"s":10,"x":1213.5,"y":15.6},{"s":10,"x":1213.6,"y":16.7},{"s":10,"x":1213.7,"y":16.0},{"s":10,"x":1213.8,"y":17.2},{"s":10,"x":1213.9,"y":16.6},{"s":10,"x":1214.0,"y":17.8},{"s":10,"x":1214.1,"y":17.0},{"s":10,"x":1214.2,"y":17.6},{"s":10,"x":1214.3,"y":16.6},{"s":10,"x":1214.4,"y":17.4},{"s":10,"x":1214.5,"y":16.2},{"s":10,"x":1214.6,"y":16.0},{"s":10,"x":1214.7,"y":15.2},{"s":10,"x":1214.8,"y":14.8},{"s":10,"x":1214.9,"y":14.0},{"s":10,"x":1215.0,"y":13.2},{"s":10,"x":1215.1,"y":12.5},{"s":10,"x":1215.2,"y":11.4},{"s":10,"x":1215.3,"y":10.2},{"s":10,"x":1215.4,"y":9.4},{"s":10,"x":1215.5,"y":8.8},{"s":10,"x":1215.6,"y":9.4},{"s":10,"x":1215.7,"y":7.4},{"s":10,"x":1215.8,"y":8.6},{"s":10,"x":1216.0,"y":10.2},{"s":10,"x":1216.2,"y":8.8},{"s":10,"x":1216.4,"y":10.6},{"s":10,"x":1216.6,"y":9.2},{"s":10,"x":1216.8,"y":10.8},{"s":10,"x":1217.0,"y":9.6},{"s":10,"x":1217.2,"y":8.6},{"s":10,"x":1217.4,"y":10.4},{"s":10,"x":1217.6,"y":9.0},{"s":10,"x":1217.8,"y":11.0},{"s":10,"x":1218.0,"y":9.4},{"s":10,"x":1218.2,"y":10.2},{"s":10,"x":1218.4,"y":8.8},{"s":10,"x":1218.6,"y":10.6},{"s":10,"x":1218.8,"y":9.6},{"s":10,"x":1219.0,"y":10.8},{"s":10,"x":1219.2,"y":9.0},{"s":10,"x":1219.4,"y":10.4},{"s":10,"x":1219.6,"y":8.8},{"s":10,"x":1219.8,"y":10.2},{"s":10,"x":1220.0,"y":9.4},
{"s":-20,"x":1205.0,"y":-19.6},{"s":-20,"x":1205.2,"y":-20.8},{"s":-20,"x":1205.4,"y":-19.4},{"s":-20,"x":1205.6,"y":-21.2},{"s":-20,"x":1205.8,"y":-20.2},{"s":-20,"x":1206.0,"y":-19.0},{"s":-20,"x":1206.2,"y":-20.6},{"s":-20,"x":1206.4,"y":-21.4},{"s":-20,"x":1206.6,"y":-19.8},{"s":-20,"x":1206.8,"y":-20.4},{"s":-20,"x":1207.0,"y":-18.4},{"s":-20,"x":1207.1,"y":-18.1},{"s":-20,"x":1207.3,"y":-21.3},{"s":-20,"x":1207.45,"y":-20.0},{"s":-20,"x":1207.6,"y":-18.5},{"s":-20,"x":1207.9,"y":-19.9},{"s":-20,"x":1208.1,"y":-19.4},{"s":-20,"x":1208.2,"y":-19.0},{"s":-20,"x":1208.4,"y":-21.8},{"s":-20,"x":1208.5,"y":-21.3},{"s":-20,"x":1208.8,"y":-18.7},{"s":-20,"x":1209.0,"y":-18.9},{"s":-20,"x":1209.1,"y":-17.6},{"s":-20,"x":1209.2,"y":-12.5},{"s":-20,"x":1209.3,"y":-8.2},{"s":-20,"x":1209.4,"y":-8.8},{"s":-20,"x":1209.5,"y":-12.4},{"s":-20,"x":1209.6,"y":-14.8},{"s":-20,"x":1209.7,"y":-11.6},{"s":-20,"x":1209.8,"y":-7.6},{"s":-20,"x":1209.9,"y":-7.4},{"s":-20,"x":1210.0,"y":-11.8},{"s":-20,"x":1210.1,"y":-16.5},{"s":-20,"x":1210.2,"y":-18.5},{"s":-20,"x":1210.3,"y":-17.2},{"s":-20,"x":1210.4,"y":-12.4},{"s":-20,"x":1210.5,"y":-8.8},{"s":-20,"x":1210.6,"y":-7.6},{"s":-20,"x":1210.7,"y":-8.0},{"s":-20,"x":1210.8,"y":-11.6},{"s":-20,"x":1210.9,"y":-14.6},{"s":-20,"x":1211.0,"y":-13.8},{"s":-20,"x":1211.1,"y":-9.6},{"s":-20,"x":1211.2,"y":-7.0},{"s":-20,"x":1211.3,"y":-8.4},{"s":-20,"x":1211.4,"y":-13.6},{"s":-20,"x":1211.5,"y":-18.2},{"s":-20,"x":1211.6,"y":-19.0},{"s":-20,"x":1211.7,"y":-18.0},{"s":-20,"x":1211.8,"y":-17.1},{"s":-20,"x":1211.9,"y":-18.4},{"s":-20,"x":1212.0,"y":-19.4},{"s":-20,"x":1212.1,"y":-18.6},{"s":-20,"x":1212.2,"y":-14.2},{"s":-20,"x":1212.3,"y":-9.4},{"s":-20,"x":1212.4,"y":-9.0},{"s":-20,"x":1212.5,"y":-11.8},{"s":-20,"x":1212.6,"y":-13.0},{"s":-20,"x":1212.7,"y":-10.4},{"s":-20,"x":1212.8,"y":-7.6},{"s":-20,"x":1212.9,"y":-7.8},{"s":-20,"x":1213.0,"y":-11.4},{"s":-20,"x":1213.1,"y":-16.2},{"s":-20,"x":1213.2,"y":-19.2},{"s":-20,"x":1213.3,"y":-19.9},{"s":-20,"x":1213.4,"y":-17.0},{"s":-20,"x":1213.5,"y":-12.6},{"s":-20,"x":1213.6,"y":-9.6},{"s":-20,"x":1213.7,"y":-9.6},{"s":-20,"x":1213.8,"y":-12.8},{"s":-20,"x":1213.9,"y":-16.0},{"s":-20,"x":1214.0,"y":-15.2},{"s":-20,"x":1214.1,"y":-12.6},{"s":-20,"x":1214.2,"y":-10.4},{"s":-20,"x":1214.3,"y":-10.6},{"s":-20,"x":1214.4,"y":-14.0},{"s":-20,"x":1214.5,"y":-17.8},{"s":-20,"x":1214.6,"y":-19.6},{"s":-20,"x":1214.8,"y":-20.8},{"s":-20,"x":1215.0,"y":-21.2},{"s":-20,"x":1215.2,"y":-21.8},{"s":-20,"x":1215.4,"y":-22.2},{"s":-20,"x":1215.6,"y":-19.0},{"s":-20,"x":1215.8,"y":-20.0},{"s":-20,"x":1216.0,"y":-21.6},{"s":-20,"x":1216.2,"y":-21.2},{"s":-20,"x":1216.4,"y":-20.8},{"s":-20,"x":1216.6,"y":-19.6},{"s":-20,"x":1216.9,"y":-20.4},{"s":-20,"x":1217.3,"y":-19.6},{"s":-20,"x":1217.5,"y":-21.3},{"s":-20,"x":1217.8,"y":-20.0},{"s":-20,"x":1218.0,"y":-20.6},{"s":-20,"x":1218.3,"y":-19.6},{"s":-20,"x":1218.6,"y":-21.0},{"s":-20,"x":1218.9,"y":-20.2},{"s":-20,"x":1219.2,"y":-21.2},{"s":-20,"x":1219.5,"y":-20.0},{"s":-20,"x":1219.7,"y":-17.4},{"s":-20,"x":1219.9,"y":-20.6},{"s":-20,"x":1220.0,"y":-20.2},
{"s":-40,"x":1205.0,"y":-40.6},{"s":-40,"x":1205.2,"y":-39.4},{"s":-40,"x":1205.4,"y":-40.8},{"s":-40,"x":1205.6,"y":-39.6},{"s":-40,"x":1205.8,"y":-41.0},{"s":-40,"x":1206.0,"y":-40.0},{"s":-40,"x":1206.2,"y":-39.2},{"s":-40,"x":1206.4,"y":-40.6},{"s":-40,"x":1206.6,"y":-39.8},{"s":-40,"x":1206.8,"y":-41.2},{"s":-40,"x":1207.0,"y":-40.2},{"s":-40,"x":1207.2,"y":-39.4},{"s":-40,"x":1207.4,"y":-40.8},{"s":-40,"x":1207.6,"y":-39.2},{"s":-40,"x":1207.8,"y":-40.4},{"s":-40,"x":1208.0,"y":-41.0},{"s":-40,"x":1208.2,"y":-39.6},{"s":-40,"x":1208.4,"y":-40.2},{"s":-40,"x":1208.6,"y":-39.0},{"s":-40,"x":1208.8,"y":-39.8},{"s":-40,"x":1208.9,"y":-38.8},{"s":-40,"x":1209.0,"y":-35.6},{"s":-40,"x":1209.1,"y":-31.0},{"s":-40,"x":1209.2,"y":-29.6},{"s":-40,"x":1209.3,"y":-30.8},{"s":-40,"x":1209.4,"y":-31.8},{"s":-40,"x":1209.5,"y":-30.6},{"s":-40,"x":1209.6,"y":-30.2},{"s":-40,"x":1209.7,"y":-32.4},{"s":-40,"x":1209.8,"y":-35.8},{"s":-40,"x":1209.9,"y":-38.0},{"s":-40,"x":1210.0,"y":-38.6},{"s":-40,"x":1210.1,"y":-38.9},{"s":-40,"x":1210.2,"y":-37.6},{"s":-40,"x":1210.3,"y":-35.0},{"s":-40,"x":1210.4,"y":-31.2},{"s":-40,"x":1210.5,"y":-28.8},{"s":-40,"x":1210.6,"y":-28.2},{"s":-40,"x":1210.7,"y":-29.4},{"s":-40,"x":1210.8,"y":-29.0},{"s":-40,"x":1210.9,"y":-27.6},{"s":-40,"x":1211.0,"y":-27.3},{"s":-40,"x":1211.1,"y":-29.8},{"s":-40,"x":1211.2,"y":-33.6},{"s":-40,"x":1211.3,"y":-36.2},{"s":-40,"x":1211.4,"y":-37.0},{"s":-40,"x":1211.5,"y":-36.6},{"s":-40,"x":1211.6,"y":-36.1},{"s":-40,"x":1211.7,"y":-34.8},{"s":-40,"x":1211.8,"y":-31.6},{"s":-40,"x":1211.9,"y":-29.0},{"s":-40,"x":1212.0,"y":-28.4},{"s":-40,"x":1212.1,"y":-28.2},{"s":-40,"x":1212.2,"y":-29.6},{"s":-40,"x":1212.3,"y":-29.0},{"s":-40,"x":1212.4,"y":-28.8},{"s":-40,"x":1212.5,"y":-29.0},{"s":-40,"x":1212.6,"y":-31.8},{"s":-40,"x":1212.7,"y":-34.8},{"s":-40,"x":1212.8,"y":-36.4},{"s":-40,"x":1212.9,"y":-37.2},{"s":-40,"x":1213.0,"y":-37.0},{"s":-40,"x":1213.1,"y":-35.6},{"s":-40,"x":1213.2,"y":-32.0},{"s":-40,"x":1213.3,"y":-29.0},{"s":-40,"x":1213.4,"y":-27.6},{"s":-40,"x":1213.5,"y":-26.9},{"s":-40,"x":1213.6,"y":-27.8},{"s":-40,"x":1213.7,"y":-29.2},{"s":-40,"x":1213.8,"y":-28.6},{"s":-40,"x":1213.9,"y":-28.0},{"s":-40,"x":1214.0,"y":-28.8},{"s":-40,"x":1214.1,"y":-32.4},{"s":-40,"x":1214.2,"y":-36.6},{"s":-40,"x":1214.3,"y":-39.0},{"s":-40,"x":1214.4,"y":-40.2},{"s":-40,"x":1214.6,"y":-39.2},{"s":-40,"x":1214.8,"y":-40.4},{"s":-40,"x":1215.0,"y":-41.0},{"s":-40,"x":1215.2,"y":-41.6},{"s":-40,"x":1215.4,"y":-40.2},{"s":-40,"x":1215.6,"y":-39.4},{"s":-40,"x":1215.8,"y":-40.8},{"s":-40,"x":1216.0,"y":-39.6},{"s":-40,"x":1216.2,"y":-41.2},{"s":-40,"x":1216.4,"y":-40.0},{"s":-40,"x":1216.6,"y":-39.2},{"s":-40,"x":1216.8,"y":-40.6},{"s":-40,"x":1217.0,"y":-39.8},{"s":-40,"x":1217.2,"y":-41.0},{"s":-40,"x":1217.4,"y":-40.2},{"s":-40,"x":1217.6,"y":-39.4},{"s":-40,"x":1217.8,"y":-41.2},{"s":-40,"x":1218.0,"y":-40.0},{"s":-40,"x":1218.2,"y":-39.4},{"s":-40,"x":1218.4,"y":-40.8},{"s":-40,"x":1218.6,"y":-39.6},{"s":-40,"x":1218.8,"y":-40.6},{"s":-40,"x":1219.0,"y":-39.2},{"s":-40,"x":1219.2,"y":-40.4},{"s":-40,"x":1219.4,"y":-39.8},{"s":-40,"x":1219.6,"y":-41.0},{"s":-40,"x":1219.8,"y":-39.6},{"s":-40,"x":1220.0,"y":-40.4},
{"s":-50,"x":1205.0,"y":-49.4},{"s":-50,"x":1205.2,"y":-50.8},{"s":-50,"x":1205.4,"y":-48.8},{"s":-50,"x":1205.6,"y":-51.2},{"s":-50,"x":1205.8,"y":-49.6},{"s":-50,"x":1206.0,"y":-50.6},{"s":-50,"x":1206.2,"y":-48.6},{"s":-50,"x":1206.4,"y":-51.0},{"s":-50,"x":1206.6,"y":-49.2},{"s":-50,"x":1206.8,"y":-50.4},{"s":-50,"x":1207.0,"y":-48.8},{"s":-50,"x":1207.2,"y":-50.0},{"s":-50,"x":1207.4,"y":-48.2},{"s":-50,"x":1207.5,"y":-47.7},{"s":-50,"x":1207.6,"y":-49.4},{"s":-50,"x":1207.8,"y":-50.6},{"s":-50,"x":1208.0,"y":-49.8},{"s":-50,"x":1208.2,"y":-51.6},{"s":-50,"x":1208.4,"y":-52.8},{"s":-50,"x":1208.6,"y":-51.2},{"s":-50,"x":1208.8,"y":-50.4},{"s":-50,"x":1208.9,"y":-47.6},{"s":-50,"x":1209.0,"y":-43.8},{"s":-50,"x":1209.1,"y":-42.1},{"s":-50,"x":1209.2,"y":-44.0},{"s":-50,"x":1209.3,"y":-43.0},{"s":-50,"x":1209.4,"y":-42.6},{"s":-50,"x":1209.5,"y":-41.6},{"s":-50,"x":1209.6,"y":-40.7},{"s":-50,"x":1209.7,"y":-46.2},{"s":-50,"x":1209.8,"y":-47.7},{"s":-50,"x":1209.9,"y":-44.9},{"s":-50,"x":1210.0,"y":-47.0},{"s":-50,"x":1210.1,"y":-48.6},{"s":-50,"x":1210.2,"y":-46.4},{"s":-50,"x":1210.3,"y":-43.6},{"s":-50,"x":1210.4,"y":-41.2},{"s":-50,"x":1210.5,"y":-40.0},{"s":-50,"x":1210.6,"y":-38.9},{"s":-50,"x":1210.7,"y":-41.4},{"s":-50,"x":1210.8,"y":-42.6},{"s":-50,"x":1210.9,"y":-41.0},{"s":-50,"x":1211.0,"y":-40.3},{"s":-50,"x":1211.1,"y":-43.0},{"s":-50,"x":1211.2,"y":-46.8},{"s":-50,"x":1211.3,"y":-47.2},{"s":-50,"x":1211.4,"y":-48.6},{"s":-50,"x":1211.5,"y":-48.1},{"s":-50,"x":1211.6,"y":-46.4},{"s":-50,"x":1211.7,"y":-47.2},{"s":-50,"x":1211.8,"y":-45.0},{"s":-50,"x":1211.9,"y":-43.5},{"s":-50,"x":1212.0,"y":-42.4},{"s":-50,"x":1212.1,"y":-41.2},{"s":-50,"x":1212.2,"y":-41.7},{"s":-50,"x":1212.3,"y":-40.4},{"s":-50,"x":1212.4,"y":-42.0},{"s":-50,"x":1212.5,"y":-41.2},{"s":-50,"x":1212.6,"y":-44.2},{"s":-50,"x":1212.7,"y":-46.3},{"s":-50,"x":1212.8,"y":-47.6},{"s":-50,"x":1212.9,"y":-48.1},{"s":-50,"x":1213.0,"y":-46.6},{"s":-50,"x":1213.1,"y":-45.8},{"s":-50,"x":1213.2,"y":-44.0},{"s":-50,"x":1213.3,"y":-42.8},{"s":-50,"x":1213.4,"y":-41.7},{"s":-50,"x":1213.5,"y":-40.3},{"s":-50,"x":1213.6,"y":-41.6},{"s":-50,"x":1213.7,"y":-40.7},{"s":-50,"x":1213.8,"y":-42.0},{"s":-50,"x":1213.9,"y":-41.2},{"s":-50,"x":1214.0,"y":-43.4},{"s":-50,"x":1214.1,"y":-45.4},{"s":-50,"x":1214.2,"y":-48.6},{"s":-50,"x":1214.3,"y":-50.2},{"s":-50,"x":1214.4,"y":-49.0},{"s":-50,"x":1214.6,"y":-50.6},{"s":-50,"x":1214.8,"y":-49.4},{"s":-50,"x":1215.0,"y":-50.8},{"s":-50,"x":1215.2,"y":-49.2},{"s":-50,"x":1215.4,"y":-50.4},{"s":-50,"x":1215.6,"y":-48.8},{"s":-50,"x":1215.8,"y":-50.6},{"s":-50,"x":1216.0,"y":-49.6},{"s":-50,"x":1216.2,"y":-51.0},{"s":-50,"x":1216.4,"y":-49.0},{"s":-50,"x":1216.6,"y":-50.4},{"s":-50,"x":1216.8,"y":-48.4},{"s":-50,"x":1217.0,"y":-50.2},{"s":-50,"x":1217.2,"y":-49.2},{"s":-50,"x":1217.4,"y":-50.8},{"s":-50,"x":1217.6,"y":-49.6},{"s":-50,"x":1217.8,"y":-51.0},{"s":-50,"x":1218.0,"y":-49.4},{"s":-50,"x":1218.2,"y":-50.6},{"s":-50,"x":1218.4,"y":-48.8},{"s":-50,"x":1218.6,"y":-50.0},{"s":-50,"x":1218.8,"y":-49.2},{"s":-50,"x":1219.0,"y":-50.8},{"s":-50,"x":1219.2,"y":-49.4},{"s":-50,"x":1219.4,"y":-50.6},{"s":-50,"x":1219.6,"y":-48.6},{"s":-50,"x":1219.8,"y":-50.2},{"s":-50,"x":1220.0,"y":-51.0},
{"s":-60,"x":1205.0,"y":-59.4},{"s":-60,"x":1205.2,"y":-60.8},{"s":-60,"x":1205.4,"y":-59.2},{"s":-60,"x":1205.6,"y":-60.4},{"s":-60,"x":1205.8,"y":-58.8},{"s":-60,"x":1206.0,"y":-60.2},{"s":-60,"x":1206.2,"y":-59.0},{"s":-60,"x":1206.4,"y":-60.6},{"s":-60,"x":1206.6,"y":-59.6},{"s":-60,"x":1206.8,"y":-61.0},{"s":-60,"x":1207.0,"y":-59.4},{"s":-60,"x":1207.2,"y":-60.2},{"s":-60,"x":1207.4,"y":-59.0},{"s":-60,"x":1207.6,"y":-60.8},{"s":-60,"x":1207.8,"y":-60.0},{"s":-60,"x":1208.0,"y":-61.2},{"s":-60,"x":1208.2,"y":-60.4},{"s":-60,"x":1208.4,"y":-61.6},{"s":-60,"x":1208.6,"y":-62.4},{"s":-60,"x":1208.7,"y":-63.0},{"s":-60,"x":1208.8,"y":-61.2},{"s":-60,"x":1208.9,"y":-60.0},{"s":-60,"x":1209.0,"y":-57.8},{"s":-60,"x":1209.1,"y":-53.6},{"s":-60,"x":1209.2,"y":-50.4},{"s":-60,"x":1209.3,"y":-49.3},{"s":-60,"x":1209.4,"y":-50.8},{"s":-60,"x":1209.5,"y":-51.6},{"s":-60,"x":1209.6,"y":-50.2},{"s":-60,"x":1209.7,"y":-49.6},{"s":-60,"x":1209.8,"y":-52.4},{"s":-60,"x":1209.9,"y":-56.0},{"s":-60,"x":1210.0,"y":-58.2},{"s":-60,"x":1210.1,"y":-58.8},{"s":-60,"x":1210.2,"y":-57.6},{"s":-60,"x":1210.3,"y":-55.4},{"s":-60,"x":1210.4,"y":-52.2},{"s":-60,"x":1210.5,"y":-50.0},{"s":-60,"x":1210.6,"y":-49.3},{"s":-60,"x":1210.7,"y":-50.4},{"s":-60,"x":1210.8,"y":-51.4},{"s":-60,"x":1210.9,"y":-50.6},{"s":-60,"x":1211.0,"y":-49.6},{"s":-60,"x":1211.1,"y":-51.0},{"s":-60,"x":1211.2,"y":-54.2},{"s":-60,"x":1211.3,"y":-56.4},{"s":-60,"x":1211.4,"y":-57.8},{"s":-60,"x":1211.5,"y":-56.6},{"s":-60,"x":1211.6,"y":-58.0},{"s":-60,"x":1211.7,"y":-57.0},{"s":-60,"x":1211.8,"y":-55.4},{"s":-60,"x":1211.9,"y":-52.8},{"s":-60,"x":1212.0,"y":-50.6},{"s":-60,"x":1212.1,"y":-49.8},{"s":-60,"x":1212.2,"y":-50.8},{"s":-60,"x":1212.3,"y":-51.2},{"s":-60,"x":1212.4,"y":-50.2},{"s":-60,"x":1212.5,"y":-49.3},{"s":-60,"x":1212.6,"y":-50.6},{"s":-60,"x":1212.7,"y":-53.8},{"s":-60,"x":1212.8,"y":-56.6},{"s":-60,"x":1212.9,"y":-58.4},{"s":-60,"x":1213.0,"y":-59.2},{"s":-60,"x":1213.1,"y":-58.6},{"s":-60,"x":1213.2,"y":-56.2},{"s":-60,"x":1213.3,"y":-53.0},{"s":-60,"x":1213.4,"y":-50.4},{"s":-60,"x":1213.5,"y":-49.8},{"s":-60,"x":1213.6,"y":-49.3},{"s":-60,"x":1213.7,"y":-50.6},{"s":-60,"x":1213.8,"y":-51.2},{"s":-60,"x":1213.9,"y":-49.8},{"s":-60,"x":1214.0,"y":-49.4},{"s":-60,"x":1214.1,"y":-51.6},{"s":-60,"x":1214.2,"y":-54.0},{"s":-60,"x":1214.3,"y":-56.5},{"s":-60,"x":1214.4,"y":-59.4},{"s":-60,"x":1214.5,"y":-61.6},{"s":-60,"x":1214.6,"y":-60.4},{"s":-60,"x":1214.8,"y":-61.4},{"s":-60,"x":1215.0,"y":-59.8},{"s":-60,"x":1215.2,"y":-61.0},{"s":-60,"x":1215.4,"y":-60.2},{"s":-60,"x":1215.6,"y":-61.6},{"s":-60,"x":1215.8,"y":-60.0},{"s":-60,"x":1216.0,"y":-60.8},{"s":-60,"x":1216.2,"y":-59.6},{"s":-60,"x":1216.4,"y":-61.2},{"s":-60,"x":1216.6,"y":-60.4},{"s":-60,"x":1216.8,"y":-59.2},{"s":-60,"x":1217.0,"y":-60.6},{"s":-60,"x":1217.2,"y":-61.4},{"s":-60,"x":1217.4,"y":-60.0},{"s":-60,"x":1217.6,"y":-61.0},{"s":-60,"x":1217.8,"y":-59.8},{"s":-60,"x":1218.0,"y":-60.6},{"s":-60,"x":1218.2,"y":-61.4},{"s":-60,"x":1218.4,"y":-60.2},{"s":-60,"x":1218.6,"y":-59.4},{"s":-60,"x":1218.8,"y":-60.8},{"s":-60,"x":1219.0,"y":-61.2},{"s":-60,"x":1219.2,"y":-60.0},{"s":-60,"x":1219.4,"y":-61.4},{"s":-60,"x":1219.6,"y":-60.4},{"s":-60,"x":1219.8,"y":-61.0},{"s":-60,"x":1220.0,"y":-60.6}
],
"rf":[
{"s":50,"x":1205,"y":50},{"s":50,"x":1210.15,"y":50},{"s":50,"x":1210.36,"y":52.3},{"s":50,"x":1210.58,"y":54.8},{"s":50,"x":1210.81,"y":52.8},{"s":50,"x":1211.14,"y":59.3},{"s":50,"x":1211.43,"y":53.2},{"s":50,"x":1211.74,"y":59.5},{"s":50,"x":1212.04,"y":53.2},{"s":50,"x":1212.35,"y":59.3},{"s":50,"x":1212.65,"y":52.8},{"s":50,"x":1212.93,"y":55},{"s":50,"x":1213.13,"y":53.7},{"s":50,"x":1213.35,"y":55},{"s":50,"x":1213.61,"y":52.7},{"s":50,"x":1213.9,"y":59.3},{"s":50,"x":1214.2,"y":53},{"s":50,"x":1214.53,"y":59.9},{"s":50,"x":1214.85,"y":52.8},{"s":50,"x":1215.15,"y":59.3},{"s":50,"x":1215.45,"y":52.8},{"s":50,"x":1215.72,"y":54.8},{"s":50,"x":1215.97,"y":51.4},{"s":50,"x":1216.2,"y":50},{"s":50,"x":1220,"y":50},
{"s":40,"x":1205,"y":40},{"s":40,"x":1210.1,"y":40},{"s":40,"x":1210.28,"y":41.7},{"s":40,"x":1210.51,"y":45.2},{"s":40,"x":1210.73,"y":42.1},{"s":40,"x":1211.08,"y":48.6},{"s":40,"x":1211.38,"y":42.6},{"s":40,"x":1211.7,"y":49.8},{"s":40,"x":1212.0,"y":42.6},{"s":40,"x":1212.31,"y":48.9},{"s":40,"x":1212.6,"y":42.6},{"s":40,"x":1212.93,"y":45.2},{"s":40,"x":1213.2,"y":42.6},{"s":40,"x":1213.38,"y":44.9},{"s":40,"x":1213.61,"y":42.4},{"s":40,"x":1213.92,"y":48.9},{"s":40,"x":1214.22,"y":42.6},{"s":40,"x":1214.55,"y":49.8},{"s":40,"x":1214.85,"y":43},{"s":40,"x":1215.15,"y":48.6},{"s":40,"x":1215.45,"y":44},{"s":40,"x":1215.7,"y":44.8},{"s":40,"x":1216.0,"y":41.5},{"s":40,"x":1216.2,"y":40},{"s":40,"x":1220,"y":40},
{"s":20,"x":1205,"y":20},{"s":20,"x":1209.8,"y":20},{"s":20,"x":1209.98,"y":22.2},{"s":20,"x":1210.21,"y":24.5},{"s":20,"x":1210.43,"y":24.1},{"s":20,"x":1210.69,"y":25.9},{"s":20,"x":1210.93,"y":25},{"s":20,"x":1211.15,"y":26.1},{"s":20,"x":1211.38,"y":29.8},{"s":20,"x":1211.56,"y":25.9},{"s":20,"x":1211.78,"y":25.5},{"s":20,"x":1212.0,"y":25.9},{"s":20,"x":1212.23,"y":25},{"s":20,"x":1212.45,"y":24.5},{"s":20,"x":1212.68,"y":22.2},{"s":20,"x":1212.78,"y":21},{"s":20,"x":1212.93,"y":23.1},{"s":20,"x":1213.13,"y":25},{"s":20,"x":1213.38,"y":24.1},{"s":20,"x":1213.65,"y":25.5},{"s":20,"x":1213.92,"y":25.9},{"s":20,"x":1214.13,"y":25.5},{"s":20,"x":1214.33,"y":29.8},{"s":20,"x":1214.52,"y":26.1},{"s":20,"x":1214.78,"y":25.9},{"s":20,"x":1215.0,"y":25.9},{"s":20,"x":1215.22,"y":25.5},{"s":20,"x":1215.45,"y":24.5},{"s":20,"x":1215.67,"y":20.8},{"s":20,"x":1215.85,"y":20},{"s":20,"x":1220,"y":20},
{"s":10,"x":1205,"y":10},{"s":10,"x":1209.65,"y":10},{"s":10,"x":1209.84,"y":13.9},{"s":10,"x":1210.06,"y":17.8},{"s":10,"x":1210.28,"y":16.7},{"s":10,"x":1210.48,"y":15.7},{"s":10,"x":1210.73,"y":18.1},{"s":10,"x":1211.11,"y":19.9},{"s":10,"x":1211.41,"y":19},{"s":10,"x":1211.7,"y":17.6},{"s":10,"x":1211.93,"y":17.8},{"s":10,"x":1212.15,"y":17.1},{"s":10,"x":1212.38,"y":13.4},{"s":10,"x":1212.53,"y":10.6},{"s":10,"x":1212.72,"y":13},{"s":10,"x":1212.93,"y":17.1},{"s":10,"x":1213.17,"y":18.1},{"s":10,"x":1213.42,"y":16.7},{"s":10,"x":1213.65,"y":17.6},{"s":10,"x":1213.88,"y":19},{"s":10,"x":1214.1,"y":19.9},{"s":10,"x":1214.33,"y":19.4},{"s":10,"x":1214.55,"y":18.1},{"s":10,"x":1214.74,"y":16.3},{"s":10,"x":1215.0,"y":18.1},{"s":10,"x":1215.18,"y":16.7},{"s":10,"x":1215.37,"y":13},{"s":10,"x":1215.52,"y":10.6},{"s":10,"x":1215.67,"y":10},{"s":10,"x":1220,"y":10},
{"s":-20,"x":1205,"y":-20},{"s":-20,"x":1208.95,"y":-20},{"s":-20,"x":1209.1,"y":-17},{"s":-20,"x":1209.25,"y":-11.5},{"s":-20,"x":1209.39,"y":-10},{"s":-20,"x":1209.5,"y":-12.5},{"s":-20,"x":1209.61,"y":-16.2},{"s":-20,"x":1209.75,"y":-12.5},{"s":-20,"x":1209.88,"y":-10},{"s":-20,"x":1210.05,"y":-14.5},{"s":-20,"x":1210.28,"y":-19.4},{"s":-20,"x":1210.5,"y":-14.5},{"s":-20,"x":1210.7,"y":-10},{"s":-20,"x":1210.83,"y":-12.5},{"s":-20,"x":1210.96,"y":-16.2},{"s":-20,"x":1211.1,"y":-12.5},{"s":-20,"x":1211.23,"y":-9.7},{"s":-20,"x":1211.38,"y":-14},{"s":-20,"x":1211.55,"y":-19.6},{"s":-20,"x":1212.08,"y":-19.9},{"s":-20,"x":1212.2,"y":-15},{"s":-20,"x":1212.35,"y":-9.7},{"s":-20,"x":1212.48,"y":-12.5},{"s":-20,"x":1212.6,"y":-16.2},{"s":-20,"x":1212.75,"y":-12.5},{"s":-20,"x":1212.9,"y":-9.7},{"s":-20,"x":1213.08,"y":-14.5},{"s":-20,"x":1213.28,"y":-19.4},{"s":-20,"x":1213.5,"y":-14.5},{"s":-20,"x":1213.68,"y":-9.7},{"s":-20,"x":1213.82,"y":-12.5},{"s":-20,"x":1213.95,"y":-16.2},{"s":-20,"x":1214.1,"y":-12.5},{"s":-20,"x":1214.25,"y":-10},{"s":-20,"x":1214.42,"y":-14.5},{"s":-20,"x":1214.62,"y":-19.5},{"s":-20,"x":1214.75,"y":-20},{"s":-20,"x":1220,"y":-20},
{"s":-40,"x":1205,"y":-40},{"s":-40,"x":1208.85,"y":-40},{"s":-40,"x":1208.98,"y":-36},{"s":-40,"x":1209.16,"y":-30.1},{"s":-40,"x":1209.39,"y":-31.9},{"s":-40,"x":1209.58,"y":-30.1},{"s":-40,"x":1209.84,"y":-37},{"s":-40,"x":1210.06,"y":-39.6},{"s":-40,"x":1210.36,"y":-35.2},{"s":-40,"x":1210.58,"y":-30.1},{"s":-40,"x":1210.8,"y":-31.9},{"s":-40,"x":1211.03,"y":-30.1},{"s":-40,"x":1211.26,"y":-37},{"s":-40,"x":1211.56,"y":-39.6},{"s":-40,"x":1211.85,"y":-35.2},{"s":-40,"x":1212.08,"y":-30.1},{"s":-40,"x":1212.3,"y":-31.9},{"s":-40,"x":1212.53,"y":-30.1},{"s":-40,"x":1212.76,"y":-37},{"s":-40,"x":1213.02,"y":-39.6},{"s":-40,"x":1213.3,"y":-35.2},{"s":-40,"x":1213.53,"y":-30.1},{"s":-40,"x":1213.76,"y":-31.9},{"s":-40,"x":1213.98,"y":-30.1},{"s":-40,"x":1214.22,"y":-37.5},{"s":-40,"x":1214.4,"y":-40},{"s":-40,"x":1220,"y":-40},
{"s":-50,"x":1205,"y":-50},{"s":-50,"x":1208.8,"y":-50},{"s":-50,"x":1209.09,"y":-41.2},{"s":-50,"x":1209.28,"y":-39.8},{"s":-50,"x":1209.46,"y":-41.7},{"s":-50,"x":1209.64,"y":-39.8},{"s":-50,"x":1209.84,"y":-44.4},{"s":-50,"x":1210.13,"y":-49.5},{"s":-50,"x":1210.38,"y":-44.4},{"s":-50,"x":1210.61,"y":-39.8},{"s":-50,"x":1210.8,"y":-41.7},{"s":-50,"x":1211.0,"y":-39.8},{"s":-50,"x":1211.22,"y":-44.4},{"s":-50,"x":1211.52,"y":-49.5},{"s":-50,"x":1211.83,"y":-44.4},{"s":-50,"x":1212.08,"y":-39.8},{"s":-50,"x":1212.3,"y":-41.7},{"s":-50,"x":1212.53,"y":-39.8},{"s":-50,"x":1212.76,"y":-44.4},{"s":-50,"x":1213.02,"y":-49.5},{"s":-50,"x":1213.28,"y":-44.4},{"s":-50,"x":1213.5,"y":-40.3},{"s":-50,"x":1213.76,"y":-41.7},{"s":-50,"x":1213.98,"y":-40},{"s":-50,"x":1214.19,"y":-46.5},{"s":-50,"x":1214.37,"y":-50},{"s":-50,"x":1220,"y":-50},
{"s":-60,"x":1205,"y":-60},{"s":-60,"x":1208.9,"y":-60},{"s":-60,"x":1209.08,"y":-55.6},{"s":-60,"x":1209.34,"y":-50},{"s":-60,"x":1209.54,"y":-51.4},{"s":-60,"x":1209.73,"y":-50},{"s":-60,"x":1209.9,"y":-55.6},{"s":-60,"x":1210.13,"y":-59.4},{"s":-60,"x":1210.36,"y":-55.6},{"s":-60,"x":1210.58,"y":-50},{"s":-60,"x":1210.8,"y":-51.4},{"s":-60,"x":1211.03,"y":-50},{"s":-60,"x":1211.3,"y":-56.4},{"s":-60,"x":1211.63,"y":-59.4},{"s":-60,"x":1211.92,"y":-55.6},{"s":-60,"x":1212.15,"y":-50},{"s":-60,"x":1212.36,"y":-51.4},{"s":-60,"x":1212.57,"y":-50},{"s":-60,"x":1212.8,"y":-56.4},{"s":-60,"x":1213.05,"y":-59.4},{"s":-60,"x":1213.35,"y":-55.6},{"s":-60,"x":1213.58,"y":-50},{"s":-60,"x":1213.78,"y":-51.4},{"s":-60,"x":1213.98,"y":-50},{"s":-60,"x":1214.22,"y":-55.6},{"s":-60,"x":1214.43,"y":-60},{"s":-60,"x":1220,"y":-60}
]
},
"hconcat":[
{"width":352,"height":504,
"encoding":{
"x":{"field":"x","type":"quantitative","scale":{"domain":[1205,1220],"nice":false},"axis":{"title":null,"labelFontSize":14,"values":[1205,1207.5,1210,1212.5,1215,1217.5,1220],"labelExpr":"datum.value % 5 === 0 ? toString(datum.value) : ''","tickSize":{"condition":{"test":"datum.value % 5 === 0","value":7},"value":4}}},
"y":{"field":"y","type":"quantitative","scale":{"domain":[-70,70],"nice":false},"axis":{"title":"Rotation angle (°)","titlePadding":39,"values":[-70,-60,-50,-40,-30,-20,-10,0,10,20,30,40,50,60,70],"labelExpr":"datum.value % 20 === 0 ? toString(datum.value) : ''","tickSize":{"condition":{"test":"datum.value % 20 === 0","value":7},"value":4}}},
"detail":{"field":"s","type":"nominal"}},
"layer":[
{"data":{"name":"le"},"mark":{"type":"line","color":"black","strokeWidth":1.5}},
{"data":{"name":"lf"},"mark":{"type":"line","color":"red","strokeWidth":1.3,"interpolate":"monotone"}}
]},
{"width":334,"height":504,
"title":{"text":"Rotation around <a*>","anchor":"start","dx":-24,"offset":60,"fontSize":29,"fontWeight":"normal"},
"encoding":{
"x":{"field":"x","type":"quantitative","scale":{"domain":[1205,1220],"nice":false},"axis":{"title":null,"labelFontSize":14,"values":[1205,1207.5,1210,1212.5,1215,1217.5,1220],"labelExpr":"datum.value % 5 === 0 ? toString(datum.value) : ''","tickSize":{"condition":{"test":"datum.value % 5 === 0","value":7},"value":4}}},
"y":{"field":"y","type":"quantitative","scale":{"domain":[-70,70],"nice":false},"axis":{"title":null,"labels":false,"values":[-70,-60,-50,-40,-30,-20,-10,0,10,20,30,40,50,60,70],"tickSize":{"condition":{"test":"datum.value % 20 === 0","value":7},"value":4}}},
"detail":{"field":"s","type":"nominal"}},
"layer":[
{"data":{"name":"re"},"mark":{"type":"line","color":"black","strokeWidth":1.5}},
{"data":{"name":"rf"},"mark":{"type":"line","color":"red","strokeWidth":1.3,"interpolate":"monotone"}}
]}
]
}
